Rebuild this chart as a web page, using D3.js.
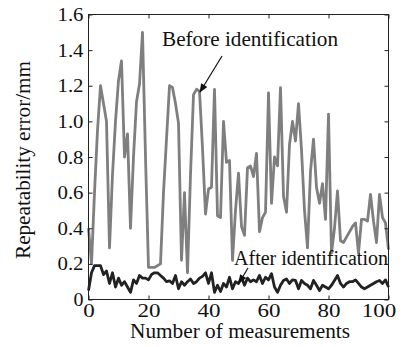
<!DOCTYPE html>
<html><head><meta charset="utf-8">
<script src="https://cdn.jsdelivr.net/npm/d3@7"></script>
<style>
html,body{margin:0;padding:0;background:#fff;}
svg{display:block;}
</style></head>
<body>
<svg id="c" width="402" height="347"></svg>
<script>
const xTicks = [0, 20, 40, 60, 80, 100];
const yTicks = [0, 0.2, 0.4, 0.6, 0.8, 1.0, 1.2, 1.4, 1.6];
const yTickLabels = ["0", "0.2", "0.4", "0.6", "0.8", "1.0", "1.2", "1.4", "1.6"];
const seriesNames = ["Before identification", "After identification"];
const before = [
  0.40, 0.20, 0.60, 0.95, 1.20, 1.10, 1.00, 0.29, 0.70, 1.00,
  1.23, 1.34, 0.80, 0.93, 0.40, 0.80, 1.11, 1.21, 1.50, 0.80,
  0.18, 0.18, 0.18, 0.19, 0.20, 0.60, 0.90, 1.20, 1.19, 1.10,
  0.99, 0.22, 0.60, 0.15, 0.70, 1.15, 1.18, 1.17, 0.85, 0.48,
  0.62, 0.63, 1.18, 0.47, 0.46, 1.00, 0.77, 0.78, 0.22, 0.50,
  0.71, 0.41, 0.36, 0.74, 0.75, 0.69, 0.82, 0.38, 0.46, 0.49,
  1.16, 0.54, 0.80, 0.75, 1.19, 0.58, 0.49, 0.87, 1.00, 0.89,
  1.10, 0.84, 0.50, 0.29, 0.72, 0.90, 0.63, 0.54, 0.65, 0.45,
  1.04, 0.26, 0.40, 0.61, 0.33, 0.32, 0.35, 0.38, 0.41, 0.43,
  0.26, 0.45, 0.45, 0.44, 0.59, 0.44, 0.32, 0.59, 0.46, 0.43,
  0.28
];
const after = [
  0.05, 0.15, 0.19, 0.19, 0.19, 0.14, 0.16, 0.09, 0.15, 0.07,
  0.12, 0.08, 0.10, 0.07, 0.04, 0.11, 0.09, 0.135, 0.12, 0.12,
  0.11, 0.14, 0.15, 0.15, 0.135, 0.12, 0.10, 0.105, 0.09, 0.135,
  0.06, 0.10, 0.08, 0.10, 0.115, 0.09, 0.10, 0.12, 0.13, 0.15,
  0.09, 0.15, 0.04, 0.08, 0.045, 0.09, 0.07, 0.125, 0.06, 0.10,
  0.09, 0.125, 0.08, 0.12, 0.10, 0.11, 0.10, 0.135, 0.09, 0.125,
  0.11, 0.145, 0.07, 0.04, 0.08, 0.107, 0.115, 0.09, 0.11, 0.107,
  0.06, 0.107, 0.09, 0.08, 0.06, 0.107, 0.08, 0.05, 0.08, 0.07,
  0.06, 0.08, 0.107, 0.135, 0.09, 0.07, 0.09, 0.10, 0.10, 0.11,
  0.09, 0.07, 0.06, 0.07, 0.08, 0.09, 0.10, 0.107, 0.09, 0.11,
  0.07
];

const FONT = "'Liberation Serif', 'DejaVu Serif', serif";
const svg = d3.select("#c");
const L = 88.5, R = 388.5, T = 14.5, B = 299.5;
const x = d3.scaleLinear().domain([0, 100]).range([L, R]);
const y = d3.scaleLinear().domain([0, 1.6]).range([B, T]);

const line = d3.line().x((d, i) => x(i)).y(d => y(d));

svg.append("path").datum(before).attr("d", line)
  .attr("fill", "none").attr("stroke", "#7f7f7f").attr("stroke-width", 2.8)
  .attr("stroke-linejoin", "round");
svg.append("path").datum(after).attr("d", line)
  .attr("fill", "none").attr("stroke", "#222").attr("stroke-width", 2.8)
  .attr("stroke-linejoin", "round");

// box
svg.append("rect").attr("x", L).attr("y", T).attr("width", R - L).attr("height", B - T)
  .attr("fill", "none").attr("stroke", "#222").attr("stroke-width", 1);

const fs = 19;
// x axis
const xa = svg.append("g").attr("transform", `translate(0,${B})`)
  .call(d3.axisBottom(x).tickValues(xTicks).tickSizeInner(-4).tickSizeOuter(0).tickPadding(4));
xa.attr("font-family", null).attr("font-size", null);
xa.select(".domain").remove();
xa.selectAll("line").attr("stroke", "#222");
xa.selectAll("text").style("font-family", FONT).style("font-size", fs + "px").attr("fill", "#111")
  .attr("dx", d => d === 100 ? -10 : 0)
  .attr("textLength", d => String(d).length * 11.5).attr("lengthAdjust", "spacingAndGlyphs");
// top ticks
const xt = svg.append("g").attr("transform", `translate(0,${T})`)
  .call(d3.axisTop(x).tickValues(xTicks).tickSizeInner(-4).tickSizeOuter(0).tickFormat(""));
xt.select(".domain").remove();
xt.selectAll("line").attr("stroke", "#222");

// y axis
const ya = svg.append("g").attr("transform", `translate(${L},0)`)
  .call(d3.axisLeft(y).tickValues(yTicks).tickSizeInner(-4).tickSizeOuter(0).tickPadding(5)
    .tickFormat((d, i) => yTickLabels[i]));
ya.attr("font-family", null).attr("font-size", null);
ya.select(".domain").remove();
ya.selectAll("line").attr("stroke", "#222");
ya.selectAll("text").style("font-family", FONT).style("font-size", fs + "px").attr("fill", "#111")
  .attr("textLength", (d, i) => yTickLabels[i].length === 1 ? 10 : 26).attr("lengthAdjust", "spacingAndGlyphs");
const yr = svg.append("g").attr("transform", `translate(${R},0)`)
  .call(d3.axisRight(y).tickValues(yTicks).tickSizeInner(-4).tickSizeOuter(0).tickFormat(""));
yr.select(".domain").remove();
yr.selectAll("line").attr("stroke", "#222");

// axis titles
svg.append("text").attr("x", 240).attr("y", 338).attr("text-anchor", "middle")
  .style("font-family", FONT).style("font-size", "20px").attr("fill", "#111")
  .attr("textLength", 220).attr("lengthAdjust", "spacingAndGlyphs")
  .text("Number of measurements");
svg.append("text").attr("transform", "translate(30,160) rotate(-90)").attr("text-anchor", "middle")
  .style("font-family", FONT).style("font-size", "20px").attr("fill", "#111")
  .attr("textLength", 198).attr("lengthAdjust", "spacingAndGlyphs")
  .text("Repeatability error/mm");

// annotations
const defs = svg.append("defs");
defs.append("marker").attr("id", "ah").attr("viewBox", "0 0 10 10").attr("refX", 9).attr("refY", 5)
  .attr("markerWidth", 10).attr("markerHeight", 9).attr("orient", "auto-start-reverse")
  .attr("markerUnits", "userSpaceOnUse")
  .append("path").attr("d", "M0,1 L10,5 L0,9 Z").attr("fill", "#111");

svg.append("text").attr("x", 162).attr("y", 46)
  .style("font-family", FONT).style("font-size", "21px").attr("fill", "#111")
  .attr("textLength", 176).attr("lengthAdjust", "spacingAndGlyphs").text(seriesNames[0]);
svg.append("line").attr("x1", 222).attr("y1", 56).attr("x2", 200).attr("y2", 92)
  .attr("stroke", "#111").attr("stroke-width", 1.2).attr("marker-end", "url(#ah)");

svg.append("text").attr("x", 234).attr("y", 265)
  .style("font-family", FONT).style("font-size", "20px").attr("fill", "#111")
  .attr("textLength", 154).attr("lengthAdjust", "spacingAndGlyphs").text(seriesNames[1]);
svg.append("line").attr("x1", 248).attr("y1", 268).attr("x2", 239).attr("y2", 283)
  .attr("stroke", "#111").attr("stroke-width", 1.2).attr("marker-end", "url(#ah)");
</script>
</body></html>
